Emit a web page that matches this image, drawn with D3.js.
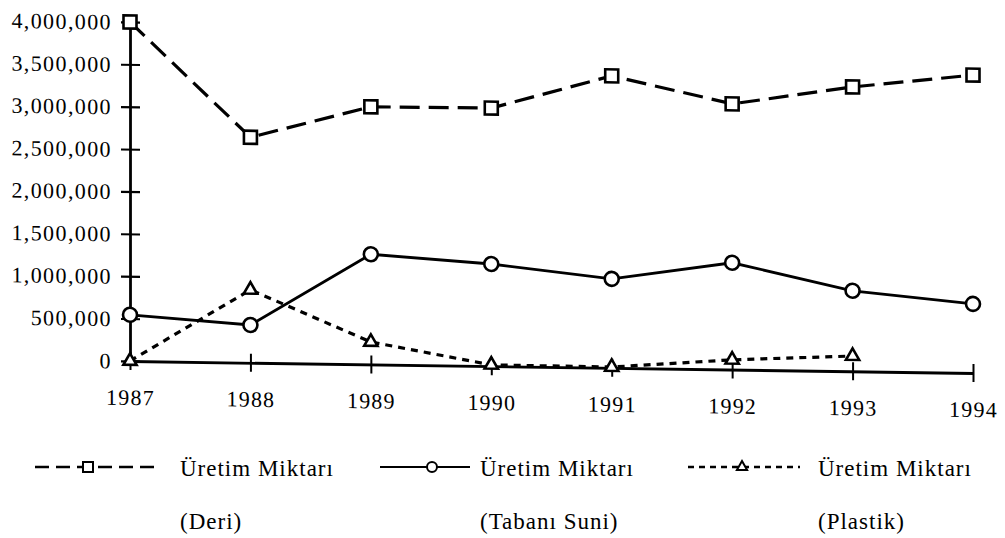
<!DOCTYPE html>
<html>
<head>
<meta charset="utf-8">
<script src="https://cdn.jsdelivr.net/npm/d3@7"></script>
<style>
  body { margin: 0; background: #fff; }
  svg { display: block; }
  text { font-family: "Liberation Serif", "Times New Roman", serif; fill: #000; }
</style>
</head>
<body>
<script>
// values
var years = [1987, 1988, 1989, 1990, 1991, 1992, 1993, 1994]
var deri = [4000000, 2660000, 3040000, 3045000, 3445000, 3135000, 3355000, 3515000]
var tabaniSuni = [545000, 445000, 1300000, 1205000, 1050000, 1260000, 950000, 815000]
var plastik = [0, 860000, 265000, 15000, 10000, 115000, 180000] // no 1994 value
var yTicks = [0, 500000, 1000000, 1500000, 2000000, 2500000, 3000000, 3500000, 4000000]
var seriesName = 'Üretim Miktarı'
var seriesSub = ['(Deri)', '(Tabanı Suni)', '(Plastik)']

var W = 1005, H = 538
var svg = d3.select('body').append('svg').attr('width', W).attr('height', H)

var x = d3.scalePoint().domain(years).range([0, 843])
var y = d3.scaleLinear().domain([0, 4000000]).range([361, 22])

// the scan's x axis runs slightly downhill, y axis stays upright -> small skewY
var g = svg.append('g').attr('transform', 'translate(130,0) skewY(0.815)')

// y axis
var ya = g.append('g').call(d3.axisLeft(y).tickValues(yTicks).tickFormat(d3.format(',')).tickSizeOuter(0))
ya.select('.domain').attr('stroke-width', 2.8)
ya.selectAll('.tick line').attr('x1', -9).attr('x2', 10).attr('stroke-width', 2.2)
ya.selectAll('.tick text')
  .attr('x', -18).attr('dy', '0.33em')
  .style('font-size', '22px').style('letter-spacing', '1.4px')
  .style('font-family', '"Liberation Serif", serif')

// x axis
var xa = g.append('g').attr('transform', 'translate(0,' + y(0) + ')')
  .call(d3.axisBottom(x).tickFormat(d3.format('d')).tickSizeOuter(0))
xa.select('.domain').attr('stroke-width', 2.8)
xa.selectAll('.tick line').attr('y1', -9).attr('y2', 9).attr('stroke-width', 2)
xa.selectAll('.tick text')
  .attr('y', 44).attr('dy', 0)
  .style('font-size', '22px').style('letter-spacing', '1.2px')
  .style('font-family', '"Liberation Serif", serif')

var series = [
  {vals: deri, dash: '20,9', width: 3.2, mark: 'square'},
  {vals: tabaniSuni, dash: null, width: 2.8, mark: 'circle'},
  {vals: plastik, dash: '7,6', width: 3.2, mark: 'triangle'}
]

var line = d3.line().x(function(d, i) { return x(years[i]) }).y(function(d) { return y(d) })

function marker(sel, type, s) {
  if (type === 'circle') {
    sel.append('circle').attr('r', s * 0.5)
  } else {
    var sym = type === 'square' ? d3.symbolSquare : d3.symbolTriangle
    var area = type === 'square' ? s * s : s * s * 0.45
    sel.append('path').attr('d', d3.symbol(sym, area)())
  }
}

series.forEach(function(s) {
  g.append('path').datum(s.vals)
    .attr('d', line)
    .attr('fill', 'none').attr('stroke', '#000')
    .attr('stroke-width', s.width)
    .attr('stroke-dasharray', s.dash)
  g.selectAll(null).data(s.vals).enter().append('g')
    .attr('transform', function(d, i) { return 'translate(' + x(years[i]) + ',' + y(d) + ')' })
    .attr('fill', '#fff').attr('stroke', '#000').attr('stroke-width', 2.6)
    .each(function() { marker(d3.select(this), s.mark, s.mark === 'circle' ? 14 : 13) })
})

// legend
var legX = [[35, 160, 88, 180], [380, 470, 432, 480], [688, 800, 742, 818]]
var legY = 467
series.forEach(function(s, i) {
  var p = legX[i]
  var lg = svg.append('g')
  lg.append('line').attr('x1', p[0]).attr('x2', p[1]).attr('y1', legY).attr('y2', legY)
    .attr('stroke', '#000').attr('stroke-width', s.width - 0.6)
    .attr('stroke-dasharray', s.dash ? (i === 0 ? '14,7' : '6,5') : null)
  lg.append('g').attr('transform', 'translate(' + p[2] + ',' + legY + ')')
    .attr('fill', '#fff').attr('stroke', '#000').attr('stroke-width', 2)
    .call(marker, s.mark, 10)
  lg.append('text').attr('x', p[3]).attr('y', legY + 9)
    .style('font-size', '23px').style('letter-spacing', '1px')
    .text(seriesName)
  lg.append('text').attr('x', p[3]).attr('y', legY + 62)
    .style('font-size', '23px').style('letter-spacing', '1px')
    .text(seriesSub[i])
})
</script>
</body>
</html>
